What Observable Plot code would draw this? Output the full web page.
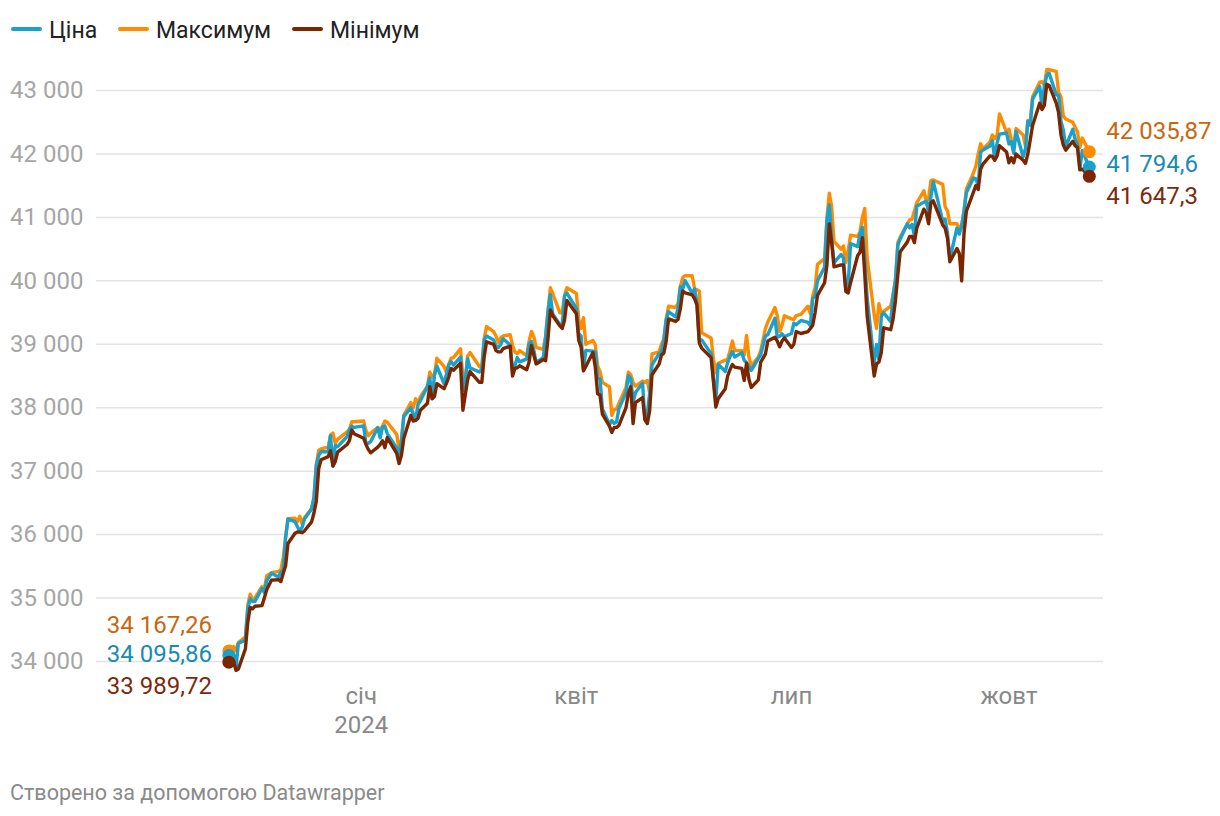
<!DOCTYPE html>
<html><head><meta charset="utf-8">
<script src="https://cdn.jsdelivr.net/npm/d3@7"></script>
<script src="https://cdn.jsdelivr.net/npm/@observablehq/plot@0.6"></script>
<style>
body{margin:0;background:#fff;font-family:Roboto,sans-serif;width:1220px;height:816px;position:relative;overflow:hidden;}
#legend{position:absolute;left:0;top:0;width:1220px;height:60px;}
.li{position:absolute;top:0;height:60px;display:flex;align-items:center;}
.sw{display:inline-block;width:31px;height:4.5px;border-radius:2px;margin-right:7px;position:relative;top:-1px;}
.lt{font-size:23px;color:#222;}
#chart{position:absolute;left:0;top:60px;}
#caption{position:absolute;left:10px;top:780px;font-size:21.5px;line-height:26px;color:#8a8a8a;}
</style></head><body>
<div id="legend"></div>
<div id="chart"></div>
<div id="caption">Створено за допомогою Datawrapper</div>
<script>
// Series names and colours
const seriesNames = ["Ціна", "Максимум", "Мінімум"];
const seriesColors = ["#1aa0cc", "#ff8c00", "#7b2600"];
const labelColors = ["#1a8ab3", "#c8660e", "#7b2a0c"];

// Trading days (DJIA), Nov 2023 – Nov 2024
const dates = [
 "2023-11-06","2023-11-07","2023-11-08","2023-11-09","2023-11-10","2023-11-13","2023-11-14","2023-11-15","2023-11-16","2023-11-17","2023-11-20","2023-11-21","2023-11-22","2023-11-24","2023-11-27","2023-11-28","2023-11-29","2023-11-30",
 "2023-12-01","2023-12-04","2023-12-05","2023-12-06","2023-12-07","2023-12-08","2023-12-11","2023-12-12","2023-12-13","2023-12-14","2023-12-15","2023-12-18","2023-12-19","2023-12-20","2023-12-21","2023-12-22","2023-12-26","2023-12-27","2023-12-28","2023-12-29",
 "2024-01-02","2024-01-03","2024-01-04","2024-01-05","2024-01-08","2024-01-09","2024-01-10","2024-01-11","2024-01-12","2024-01-16","2024-01-17","2024-01-18","2024-01-19","2024-01-22","2024-01-23","2024-01-24","2024-01-25","2024-01-26","2024-01-29","2024-01-30","2024-01-31",
 "2024-02-01","2024-02-02","2024-02-05","2024-02-06","2024-02-07","2024-02-08","2024-02-09","2024-02-12","2024-02-13","2024-02-14","2024-02-15","2024-02-16","2024-02-20","2024-02-21","2024-02-22","2024-02-23","2024-02-26","2024-02-27","2024-02-28","2024-02-29",
 "2024-03-01","2024-03-04","2024-03-05","2024-03-06","2024-03-07","2024-03-08","2024-03-11","2024-03-12","2024-03-13","2024-03-14","2024-03-15","2024-03-18","2024-03-19","2024-03-20","2024-03-21","2024-03-22","2024-03-25","2024-03-26","2024-03-27","2024-03-28",
 "2024-04-01","2024-04-02","2024-04-03","2024-04-04","2024-04-05","2024-04-08","2024-04-09","2024-04-10","2024-04-11","2024-04-12","2024-04-15","2024-04-16","2024-04-17","2024-04-18","2024-04-19","2024-04-22","2024-04-23","2024-04-24","2024-04-25","2024-04-26","2024-04-29","2024-04-30",
 "2024-05-01","2024-05-02","2024-05-03","2024-05-06","2024-05-07","2024-05-08","2024-05-09","2024-05-10","2024-05-13","2024-05-14","2024-05-15","2024-05-16","2024-05-17","2024-05-20","2024-05-21","2024-05-22","2024-05-23","2024-05-24","2024-05-28","2024-05-29","2024-05-30","2024-05-31",
 "2024-06-03","2024-06-04","2024-06-05","2024-06-06","2024-06-07","2024-06-10","2024-06-11","2024-06-12","2024-06-13","2024-06-14","2024-06-17","2024-06-18","2024-06-20","2024-06-21","2024-06-24","2024-06-25","2024-06-26","2024-06-27","2024-06-28",
 "2024-07-01","2024-07-02","2024-07-03","2024-07-05","2024-07-08","2024-07-09","2024-07-10","2024-07-11","2024-07-12","2024-07-15","2024-07-16","2024-07-17","2024-07-18","2024-07-19","2024-07-22","2024-07-23","2024-07-24","2024-07-25","2024-07-26","2024-07-29","2024-07-30","2024-07-31",
 "2024-08-01","2024-08-02","2024-08-05","2024-08-06","2024-08-07","2024-08-08","2024-08-09","2024-08-12","2024-08-13","2024-08-14","2024-08-15","2024-08-16","2024-08-19","2024-08-20","2024-08-21","2024-08-22","2024-08-23","2024-08-26","2024-08-27","2024-08-28","2024-08-29","2024-08-30",
 "2024-09-03","2024-09-04","2024-09-05","2024-09-06","2024-09-09","2024-09-10","2024-09-11","2024-09-12","2024-09-13","2024-09-16","2024-09-17","2024-09-18","2024-09-19","2024-09-20","2024-09-23","2024-09-24","2024-09-25","2024-09-26","2024-09-27","2024-09-30",
 "2024-10-01","2024-10-02","2024-10-03","2024-10-04","2024-10-07","2024-10-08","2024-10-09","2024-10-10","2024-10-11","2024-10-14","2024-10-15","2024-10-16","2024-10-17","2024-10-18","2024-10-21","2024-10-22","2024-10-23","2024-10-24","2024-10-25","2024-10-28","2024-10-29","2024-10-30","2024-10-31",
 "2024-11-01","2024-11-04"
];

// Ціна (close)
const price = [
 34095.86,34152.60,34112.27,33891.94,34283.10,34337.87,34827.70,34991.21,34945.47,34947.28,35151.04,35088.29,35273.03,35390.15,35333.47,35416.98,35430.42,35950.89,
 36245.50,36204.44,36124.56,36054.43,36117.38,36247.87,36404.93,36577.94,37090.24,37248.35,37305.16,37306.02,37557.92,37082.00,37404.35,37385.97,37545.33,37656.52,37710.10,37689.54,
 37715.04,37430.19,37440.34,37466.11,37683.01,37525.16,37695.73,37711.02,37592.98,37361.12,37266.67,37468.61,37863.80,38001.81,37905.45,37806.39,38049.13,38109.43,38333.45,38467.31,38150.30,
 38519.84,38654.42,38380.12,38521.36,38677.36,38726.33,38671.69,38797.38,38272.75,38424.27,38773.12,38627.99,38563.80,38612.24,39069.11,39131.53,39069.23,38972.41,38949.02,38996.39,
 39087.38,38989.83,38585.19,38661.05,38791.35,38722.69,38769.66,39005.49,39043.32,38905.66,38714.77,38790.43,39110.76,39512.13,39781.37,39475.90,39313.64,39282.33,39760.08,39807.37,
 39566.85,39170.24,39127.14,38596.98,38904.04,38892.80,38883.67,38461.51,38459.08,37983.24,37735.11,37798.97,37753.31,37775.38,37986.40,38239.98,38503.69,38460.92,38085.80,38239.66,38386.09,37815.92,
 37903.29,38225.66,38675.68,38852.27,38884.26,39056.39,39387.76,39512.84,39431.51,39558.11,39908.00,39869.38,40003.59,39806.77,39872.99,39671.04,39065.26,39069.59,38852.86,38441.54,38111.48,38686.32,
 38571.03,38711.29,38807.33,38886.17,38798.99,38868.04,38747.42,38712.21,38647.10,38589.16,38778.10,38834.86,39134.76,39150.33,39411.21,39112.16,39127.80,39164.06,39118.86,
 39169.52,39331.85,39308.00,39375.87,39344.79,39291.97,39721.36,39753.75,40000.90,40211.72,40954.48,41198.08,40665.02,40287.53,40415.44,40358.09,39853.87,39935.07,40589.34,40539.93,40743.33,40842.79,
 40347.97,39737.26,38703.27,38997.66,38763.45,39446.49,39497.54,39357.01,39765.64,40008.39,40563.06,40659.76,40896.53,40834.97,40890.49,40712.78,41175.08,41240.52,41250.50,41091.42,41335.05,41563.08,
 40936.93,40974.97,40755.75,40345.41,40829.59,40736.96,40861.71,41096.77,41393.78,41622.08,41606.18,41503.10,42025.19,42063.36,42124.65,42208.22,41914.75,42175.11,42313.00,42330.15,
 42156.97,42196.52,42011.59,42352.75,41954.24,42080.37,42512.00,42454.12,42863.86,43065.22,42740.42,43077.70,43239.05,43275.91,42931.60,42924.89,42514.95,42374.36,42114.40,42387.57,42233.05,42141.54,41763.46,
 42052.19,41794.60
];

// Максимум (high)
const high = [
 34167.26,34180,34235,34170,34300,34390,34890,35060,34990,35000,35180,35140,35350,35400,35420,35440,35640,35960,
 36250,36260,36200,36290,36170,36270,36410,36590,37100,37330,37350,37380,37570,37600,37440,37500,37620,37660,37780,37780,
 37790,37640,37560,37600,37690,37640,37710,37790,37770,37580,37330,37500,37880,38080,38000,38140,38080,38170,38340,38560,38490,
 38530,38780,38650,38560,38680,38780,38790,38930,38480,38440,38810,38870,38650,38630,39090,39280,39200,39130,39030,39100,
 39130,39150,38980,38880,38850,38900,38820,39050,39200,39120,38950,38920,39130,39530,39890,39800,39500,39490,39770,39890,
 39800,39400,39250,39420,39000,39060,38990,38660,38570,38400,38330,37880,37970,37980,38070,38320,38560,38520,38400,38340,38420,38400,
 38430,38230,38850,38880,39000,39080,39400,39600,39580,39640,39910,40050,40080,40080,39880,39860,39840,39180,39100,38760,38550,38700,
 38750,38760,38900,39050,38900,38900,38830,39140,38800,38660,38800,38900,39250,39350,39580,39450,39200,39300,39450,
 39400,39390,39450,39470,39600,39480,39760,39890,40260,40350,40990,41380,41170,40620,40500,40550,40290,40480,40720,40700,40780,41000,
 41140,40360,39460,39250,39640,39480,39520,39600,39790,40020,40600,40690,40900,40960,40970,41100,41230,41420,41260,41300,41580,41590,
 41520,41170,41100,40900,40900,40820,40880,41100,41450,41700,41810,42000,42160,42080,42190,42300,42240,42300,42630,42340,
 42390,42230,42100,42400,42300,42120,42530,42500,42900,43130,43140,43080,43330,43330,43300,42970,42900,42600,42550,42500,42420,42350,42100,
 42250,42035.87
];

// Мінімум (low)
const low = [
 33989.72,33940,34000,33860,33880,34200,34620,34850,34830,34870,34880,35000,35130,35280,35290,35260,35390,35510,
 35860,36020,36040,36040,36030,36060,36200,36340,36530,37040,37180,37230,37320,37080,37150,37300,37420,37480,37650,37590,
 37520,37420,37340,37290,37380,37420,37480,37370,37530,37280,37120,37250,37520,37880,37790,37800,37830,37960,38070,38330,38140,
 38180,38380,38300,38380,38480,38620,38590,38700,37960,38200,38440,38570,38400,38400,38800,39040,39000,38900,38880,38880,
 38930,38970,38500,38620,38630,38660,38600,38720,38980,38830,38690,38760,38740,39090,39540,39450,39290,39250,39380,39690,
 39480,39060,38960,38580,38650,38870,38640,38220,38200,37900,37710,37610,37690,37690,37720,38000,38230,38330,37750,38080,38160,37810,
 37750,37950,38520,38690,38830,38860,39050,39400,39360,39390,39560,39840,39810,39780,39720,39620,39020,38940,38790,38410,38010,38140,
 38300,38500,38600,38680,38640,38620,38430,38700,38450,38320,38440,38720,38850,39050,39110,39050,38960,39050,39100,
 38950,39000,39200,39170,39200,39250,39300,39500,39770,39970,40250,40900,40600,40220,40250,40250,39830,39810,39970,40400,40450,40680,
 40110,39450,38500,38690,38720,38870,39260,39230,39400,39690,40100,40460,40610,40700,40700,40600,40830,41130,41070,40900,41230,41260,
 40880,40830,40670,40300,40510,40430,40000,40750,41100,41400,41500,41440,41760,41840,41970,41960,41900,41970,42130,42030,
 41860,41940,41860,42000,41900,41850,42000,42220,42450,42800,42700,42770,43100,43080,42800,42650,42300,42140,42060,42200,42130,42100,41750,
 41760,41647.30
];

// Axis ticks
const yTicks = [34000,35000,36000,37000,38000,39000,40000,41000,42000,43000];
const xTickDates = ["2024-01-01","2024-04-01","2024-07-01","2024-10-01"];
const xTickLabels = ["січ\n2024","квіт","лип","жовт"];

const data = dates.map((d,i)=>({date:new Date(d+"T00:00:00Z"), price:price[i], high:high[i], low:low[i]}));
const loc = d3.formatLocale({decimal:",", thousands:"\u00a0", grouping:[3], currency:["",""]});
const fmtInt = loc.format(",d");
const fmtVal = loc.format(",.2~f");

// legend
const legend = document.getElementById("legend");
const legendLeft = [11, 118, 292];
seriesNames.forEach((n,i)=>{
  const it = document.createElement("div");
  it.className="li"; it.style.left = legendLeft[i]+"px";
  it.innerHTML = `<span class="sw" style="background:${seriesColors[i]}"></span><span class="lt">${n}</span>`;
  legend.appendChild(it);
});

const first = data[0], last = data[data.length-1];
const labelDy = {start:{high:-26, price:-1, low:24}, end:{high:-20, price:-3, low:20}};
const FS = 24;

const marks = [
  Plot.gridY({ticks:yTicks, stroke:"#e3e3e3", strokeOpacity:1, strokeWidth:1.5}),
  Plot.axisY({ticks:yTicks, tickSize:0, tickPadding:13, fontSize:FS, fill:"#a6a6a6", tickFormat:fmtInt, label:null}),
  Plot.axisX({ticks:xTickDates.map(d=>new Date(d+"T00:00:00Z")), tickSize:0, tickPadding:23, fontSize:FS, fill:"#888", lineHeight:1.17,
    tickFormat:(d,i)=>xTickLabels[i], label:null}),
  Plot.lineY(data,{x:"date", y:"high", stroke:seriesColors[1], strokeWidth:3.4, strokeLinejoin:"round"}),
  Plot.lineY(data,{x:"date", y:"price", stroke:seriesColors[0], strokeWidth:3.4, strokeLinejoin:"round"}),
  Plot.lineY(data,{x:"date", y:"low", stroke:seriesColors[2], strokeWidth:3.4, strokeLinejoin:"round"}),
];
[["high",1],["price",0],["low",2]].forEach(([k,ci])=>{
  marks.push(Plot.dot([first,last],{x:"date", y:k, r:6.5, fill:seriesColors[ci], stroke:"none"}));
});
[["high",1],["price",0],["low",2]].forEach(([k,ci])=>{
  marks.push(Plot.text([first],{x:"date", y:k, text:d=>fmtVal(d[k]), dx:-17, dy:labelDy.start[k], textAnchor:"end", fill:labelColors[ci], fontSize:FS}));
  marks.push(Plot.text([last],{x:"date", y:k, text:d=>fmtVal(d[k]), dx:17, dy:labelDy.end[k], textAnchor:"start", fill:labelColors[ci], fontSize:FS}));
});

const chart = Plot.plot({
  width:1220, height:700,
  marginLeft:96, marginRight:117, marginTop:30, marginBottom:99,
  style:{fontFamily:"Roboto, sans-serif", background:"transparent"},
  x:{type:"utc", domain:[new Date("2023-09-11T00:00:00Z"), new Date("2024-11-10T00:00:00Z")]},
  y:{domain:[34000,43000]},
  marks
});
document.getElementById("chart").appendChild(chart);
</script>
</body></html>
